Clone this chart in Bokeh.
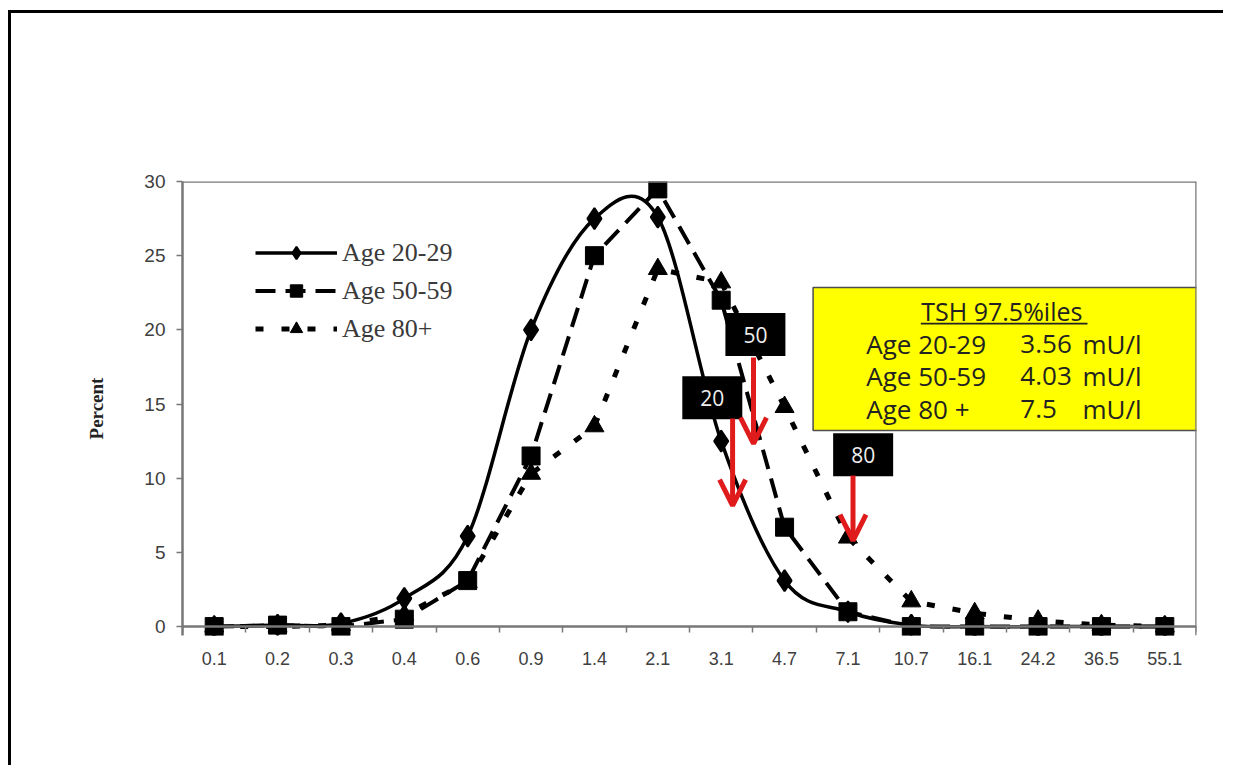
import numpy as np
from bokeh.plotting import figure
from bokeh.models import (Range1d, FixedTicker, Legend, LegendItem, Arrow, OpenHead,
                          Span, LinearAxis, CustomLabelingPolicy)
from bokeh.core.properties import value
from bokeh.embed import file_html
from bokeh.resources import INLINE

# ---------------- data ----------------
categories = ["0.1", "0.2", "0.3", "0.4", "0.6", "0.9", "1.4", "2.1",
              "3.1", "4.7", "7.1", "10.7", "16.1", "24.2", "36.5", "55.1"]
age_20_29 = [0, 0.1, 0.2, 1.9, 6.1, 20.0, 27.5, 27.6, 12.5, 3.1, 1.0, 0.1, 0, 0, 0, 0]
age_50_59 = [0, 0.1, 0, 0.5, 3.1, 11.5, 25.0, 29.5, 22.0, 6.7, 1.0, 0, 0, 0, 0, 0]
age_80_plus = [0, 0, 0.1, 0.8, 3.0, 10.3, 13.5, 24.1, 23.2, 14.8, 6.0, 1.7, 0.9, 0.4, 0.1, 0]
series_names = ["Age 20-29", "Age 50-59", "Age 80+"]
box_title = "TSH  97.5%iles"
pct_groups = ["Age 20-29", "Age 50-59", "Age 80 +"]
pct_values = ["3.56", "4.03", "7.5"]
pct_unit = "mU/l"
arrow_tags = ["20", "50", "80"]

xs = np.arange(len(categories), dtype=float)
RED = "#e01b1b"
AX = "#777777"

# figure content starts at page (11, 13); black page edge (left and top) drawn as shadows
p = figure(width=1222, height=762,
           x_range=Range1d(-0.5, 15.5), y_range=Range1d(-0.6, 30),
           output_backend="svg", toolbar_location=None,
           x_axis_location=None,
           min_border_left=171, min_border_right=37,
           min_border_top=168, min_border_bottom=140)
p.styles = {"margin-left": "11px", "margin-top": "13px",
            "box-shadow": ("-13px 0px 0px -10px #000000, "
                           "0px -13px 0px -10px #000000, "
                           "-13px -13px 0px -10px #000000")}
p.background_fill_color = "white"
p.border_fill_color = "white"
p.outline_line_color = None
p.xgrid.visible = False
p.ygrid.visible = False

# frame top / right lines
p.add_layout(Span(location=30, dimension="width", line_color=AX, line_width=2.5))
p.add_layout(Span(location=15.5, dimension="height", line_color=AX, line_width=2.5))

# label-only x axis (at frame bottom)
xlab = LinearAxis(ticker=FixedTicker(ticks=list(range(len(categories))), minor_ticks=[]))
xlab.major_label_overrides = {i: c for i, c in enumerate(categories)}
xlab.axis_line_color = None
xlab.major_tick_line_color = None
xlab.minor_tick_line_color = None
xlab.major_label_standoff = 10
xlab.major_label_text_font = "Liberation Sans"
xlab.major_label_text_font_size = "18px"
xlab.major_label_text_color = "#404040"
p.add_layout(xlab, "below")
# x axis line and category-boundary ticks at y = 0 (no labels)
xline = LinearAxis(ticker=FixedTicker(ticks=[i - 0.5 for i in range(len(categories) + 1)],
                                      minor_ticks=[]),
                   fixed_location=0,
                   major_label_policy=CustomLabelingPolicy(code="return new Set()"))
xline.major_tick_in = 0
xline.major_tick_out = 6
xline.major_tick_line_color = AX
xline.major_tick_line_width = 1.5
xline.minor_tick_line_color = None
xline.axis_line_color = AX
xline.axis_line_width = 2.5
p.add_layout(xline, "below")

# y axis
ya = p.yaxis[0]
ya.ticker = FixedTicker(ticks=[0, 5, 10, 15, 20, 25, 30], minor_ticks=[])
ya.major_tick_in = 0
ya.major_tick_out = 6
ya.major_tick_line_color = AX
ya.major_tick_line_width = 1.5
ya.axis_line_color = AX
ya.axis_line_width = 2.5
ya.major_label_standoff = 11
ya.major_label_text_font = "Liberation Sans"
ya.major_label_text_font_size = "19px"
ya.major_label_text_color = "#404040"
ya.axis_label = "Percent"
ya.axis_label_text_font = "Liberation Serif"
ya.axis_label_text_font_style = "bold"
ya.axis_label_text_font_size = "19px"
ya.axis_label_text_color = "#222222"
ya.axis_label_standoff = 34

# ---- Age 20-29: smoothed solid curve through the points (bezier segments) ----
yv = np.asarray(age_20_29, dtype=float)
n = len(yv)
xp = np.concatenate([[xs[0]], xs, [xs[-1]]])
yp = np.concatenate([[yv[0]], yv, [yv[-1]]])
cx0 = xp[1:n] + (xp[2:n + 1] - xp[0:n - 1]) / 6.0
cy0 = yp[1:n] + (yp[2:n + 1] - yp[0:n - 1]) / 6.0
cx1 = xp[2:n + 1] - (xp[3:n + 2] - xp[1:n]) / 6.0
cy1 = yp[2:n + 1] - (yp[3:n + 2] - yp[1:n]) / 6.0
r1_line = p.bezier(x0=xs[:-1], y0=yv[:-1], x1=xs[1:], y1=yv[1:],
                   cx0=cx0, cy0=cy0, cx1=cx1, cy1=cy1, line_color="black", line_width=3.5)
r1_pts = p.scatter(xs, age_20_29, marker="diamond", size=21, line_width=2,
                   fill_color="black", line_color="black")

# ---- Age 80+: dotted ----
r3_line = p.line(xs, age_80_plus, line_color="black", line_width=5, line_dash="8 18")
r3_pts = p.scatter(xs, age_80_plus, marker="triangle", size=19,
                   fill_color="black", line_color="black")

# ---- Age 50-59: dashed ----
r2_line = p.line(xs, age_50_59, line_color="black", line_width=4, line_dash="20 10")
r2_pts = p.scatter(xs, age_50_59, marker="square", size=18,
                   fill_color="black", line_color="black")

legend = Legend(items=[
    LegendItem(label=series_names[0], renderers=[r1_line, r1_pts]),
    LegendItem(label=series_names[1], renderers=[r2_line, r2_pts]),
    LegendItem(label=series_names[2], renderers=[r3_line, r3_pts]),
], location=(73, 291), glyph_width=82, glyph_height=31, spacing=7,
    label_standoff=5, padding=0, margin=0,
    border_line_color=None, background_fill_alpha=0,
    label_text_font="Liberation Serif", label_text_font_size="26px",
    label_text_color="#3a3a3a")
p.add_layout(legend)

# ---- red arrows with black tags ----
arrow_x = [8.18, 8.51, 10.08]
arrow_y0 = [14.02, 18.13, 10.18]
arrow_y1 = [8.16, 12.33, 5.80]
for ax_, a0, a1 in zip(arrow_x, arrow_y0, arrow_y1):
    p.add_layout(Arrow(end=OpenHead(size=26, line_color=RED, line_width=5),
                       x_start=ax_, y_start=a0, x_end=ax_, y_end=a1,
                       line_color=RED, line_width=5))
tag_x = [7.86, 8.54, 10.24]
tag_y = [15.43, 19.68, 11.59]
p.rect(x=tag_x, y=tag_y, width=60, height=43, width_units="screen", height_units="screen",
       fill_color="black", line_color=None)
p.text(x=tag_x, y=tag_y, text=arrow_tags, text_color="#eeeeee",
       text_font=value("Open Sans"), text_font_size="21px",
       text_align="center", text_baseline="middle")

# ---- yellow percentile box ----
p.quad(left=[9.45], right=[15.53], top=[22.85], bottom=[13.21],
       fill_color="#ffff00", line_color="#4d4d4d", line_width=1.5)
p.text(x=[12.48], y=[21.30], text=[box_title], text_color="#222222",
       text_font=value("Open Sans"), text_font_size="25px",
       text_align="center", text_baseline="middle")
p.segment(x0=[11.15], y0=[20.42], x1=[13.78], y1=[20.42], line_color="#222222", line_width=1.6)
row_y = [19.05, 16.92, 14.67]
p.text(x=[10.29] * 3, y=row_y, text=pct_groups, text_color="#222222",
       text_font=value("Open Sans"), text_font_size="26px",
       text_align="left", text_baseline="middle")
p.text(x=[12.72] * 3, y=row_y, text=pct_values, text_color="#222222",
       text_font=value("Open Sans"), text_font_size="26px",
       text_align="left", text_baseline="middle")
p.text(x=[13.70] * 3, y=row_y, text=[pct_unit] * 3, text_color="#222222",
       text_font=value("Open Sans"), text_font_size="26px",
       text_align="left", text_baseline="middle")

open("out.html", "w").write(file_html(p, INLINE))
